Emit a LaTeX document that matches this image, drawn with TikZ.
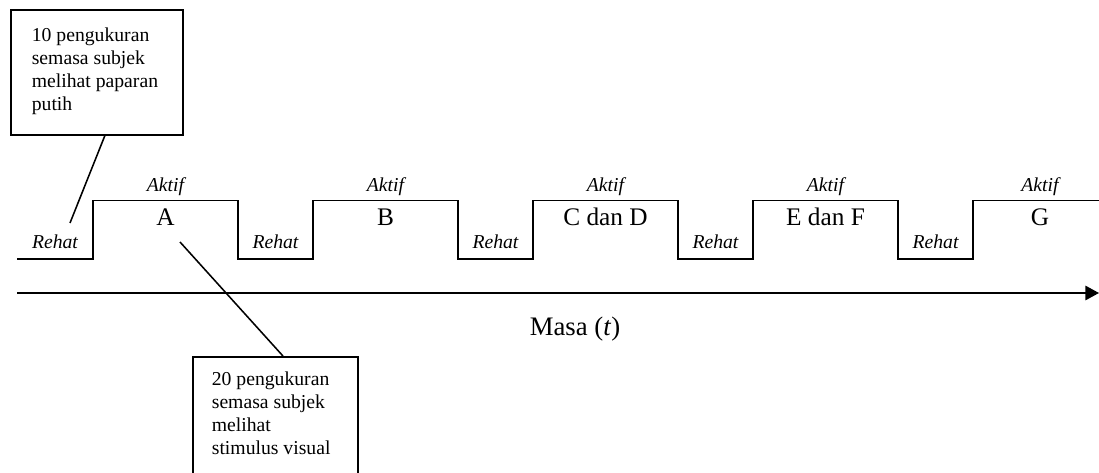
\documentclass[tikz,border=0pt]{standalone}
\usepackage{fontspec}
\setmainfont{Liberation Serif}
\usetikzlibrary{arrows.meta}

\begin{document}
\begin{tikzpicture}[
    wave/.style={line width=0.9pt},
    note/.style={draw, line width=1.2pt, anchor=north west, font=\fontsize{14}{16.4}\selectfont},
    pointer/.style={line width=1.1pt},
    phase/.style={font=\fontsize{14}{16}\selectfont\itshape, anchor=base},
    cond/.style={font=\fontsize{18}{20}\selectfont, anchor=base}
  ]

  \useasboundingbox (0,0) rectangle (27.475,11.8);
  \clip (0,0) rectangle (27.475,11.8);

  %Time axis
  \coordinate (t0) at (0.425,4.475);
  \coordinate (t1) at (27.475,4.475);
  \draw[line width=1.2pt, -{Triangle[length=0.34cm,width=0.36cm]}] (t0) -- (t1);
  \node[font=\fontsize{19}{22}\selectfont, anchor=base] (masa) at (14.375,3.42) {Masa (\textit{t})};

  %Rest / active blocks
  \draw[wave] (0.425,5.325)
    \foreach \x in {2.325,7.825,13.325,18.825}{ -- (\x,5.325) -- (\x,6.78) -- (\x+3.625,6.78) -- (\x+3.625,5.325) }
    -- (24.325,5.325) -- (24.325,6.78) -- (27.475,6.78);

  %Labels
  \foreach \x [count=\i] in {1.375,6.8875,12.3875,17.8875,23.3875}
  \node[phase] (rehat\i) at (\x,5.58) {Rehat};

  \foreach \x/\descr [count=\i] in {4.1375/A, 9.6375/B, 15.1375/C dan D, 20.6375/E dan F, 26.0/G}{
    \node[phase] (aktif\i) at (\x,7.0) {Aktif};
    \node[cond] (cond\i) at (\x,6.17) {\descr};
  }

  %Notes
  \node[note, inner xsep=0.525cm, inner ysep=0.45cm] (box1) at (0.25,11.575)
    {\parbox[t][2.225cm][t]{3.25cm}{10 pengukuran\\semasa subjek\\melihat paparan\\putih}};
  \node[note, inner xsep=0.475cm, inner ysep=0.375cm] (box2) at (4.8,2.9)
    {\parbox[t][3cm][t]{3.175cm}{20 pengukuran\\semasa subjek\\melihat\\stimulus visual}};

  \coordinate (rehatpt) at (1.75,6.225);
  \coordinate (apt) at (4.5,5.75);
  \draw[pointer] ([xshift=0.2cm]box1.south) -- (rehatpt);
  \draw[pointer] (apt) -- ([xshift=0.19cm]box2.north);

\end{tikzpicture}
\end{document}
